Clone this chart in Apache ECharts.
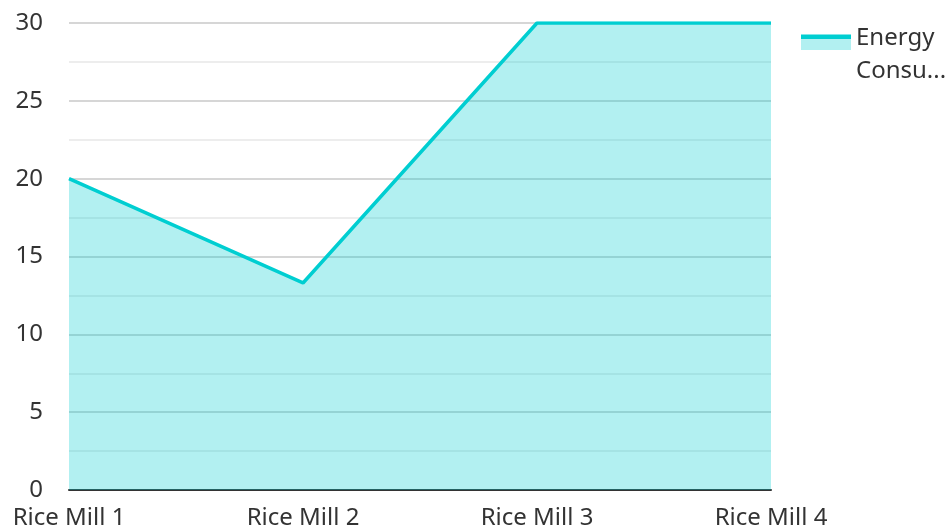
<!DOCTYPE html>
<html>
<head>
<meta charset="utf-8">
<script src="https://cdn.jsdelivr.net/npm/echarts@6/dist/echarts.min.js"></script>
<style>
  html, body { margin: 0; padding: 0; background: #fff; }
  #chart { width: 950px; height: 531px; }
</style>
</head>
<body>
<div id="chart"></div>
<script>
// chart data
var categories = ['Rice Mill 1', 'Rice Mill 2', 'Rice Mill 3', 'Rice Mill 4']
var seriesName = 'Energy Consumption'
var energyValues = [20, 13.3, 30, 30]

var chart = echarts.init(document.getElementById('chart'))
var font = '"Noto Sans", "Open Sans", sans-serif'
var lineColor = '#00ced1'
var areaColor = '#b2f0f1'

// legend icon: line on top, area below, rest transparent so it sits by the first text line
var legendIcon = new echarts.graphic.LinearGradient(0, 0, 0, 1, [
  { offset: 0, color: lineColor },
  { offset: 0.11, color: lineColor },
  { offset: 0.11, color: areaColor },
  { offset: 0.366, color: areaColor },
  { offset: 0.366, color: 'rgba(255,255,255,0)' },
  { offset: 1, color: 'rgba(255,255,255,0)' }
])

chart.setOption({
  animation: false,
  grid: {
    left: 69,
    right: 179,
    top: 23,
    bottom: 41,
    containLabel: false
  },
  legend: {
    data: [{
      name: seriesName,
      icon: 'rect',
      itemStyle: { color: legendIcon }
    }],
    orient: 'vertical',
    left: 796,
    top: 17,
    itemWidth: 50,
    itemHeight: 41,
    itemGap: 10,
    formatter: function () {
      return 'Energy\nConsu...'
    },
    textStyle: {
      fontFamily: font,
      fontSize: 24,
      color: '#333',
      lineHeight: 33
    }
  },
  xAxis: {
    type: 'category',
    data: categories,
    boundaryGap: false,
    axisTick: { show: false },
    axisLine: { lineStyle: { color: '#333', width: 2 } },
    axisLabel: {
      fontFamily: font,
      fontSize: 24,
      color: '#333',
      margin: 16
    }
  },
  yAxis: {
    type: 'value',
    min: 0,
    max: 30,
    interval: 5,
    axisLine: { show: false },
    axisTick: { show: false },
    axisLabel: {
      fontFamily: font,
      fontSize: 24,
      color: '#333',
      margin: 26
    },
    splitLine: { lineStyle: { color: '#c8c8c8', width: 1.5 } },
    minorTick: { show: false, splitNumber: 2 },
    minorSplitLine: { show: true, lineStyle: { color: '#e8e8e8', width: 1.5 } }
  },
  series: [{
    name: seriesName,
    type: 'line',
    data: energyValues,
    showSymbol: false,
    symbol: 'none',
    z: 1,
    lineStyle: { color: lineColor, width: 3.5 },
    itemStyle: { color: lineColor },
    areaStyle: { color: lineColor, opacity: 0.3 }
  }]
})
</script>
</body>
</html>
